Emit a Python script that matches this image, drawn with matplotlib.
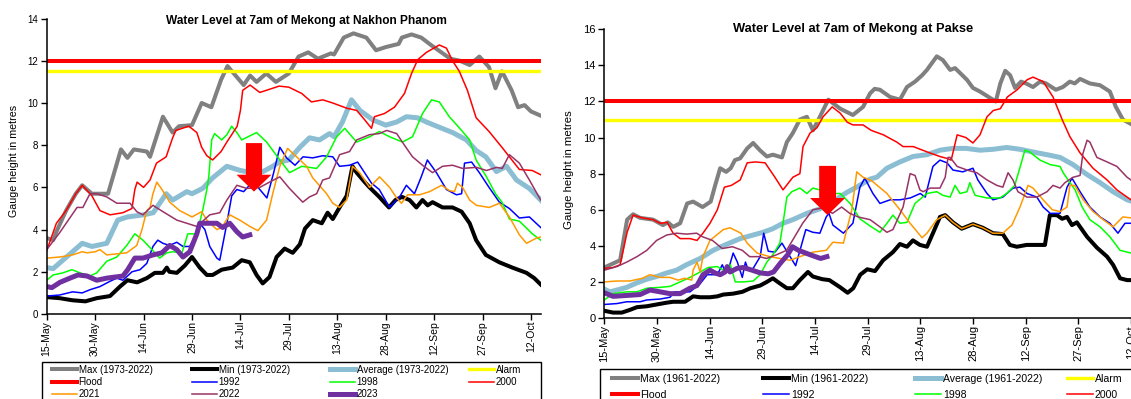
import matplotlib
matplotlib.use('Agg')
import matplotlib.pyplot as plt
from matplotlib.lines import Line2D
from matplotlib.patches import Rectangle, FancyArrow

plt.rcParams['font.family'] = ['Liberation Sans', 'DejaVu Sans']

W, H, DPI = 1131, 399, 100

TICK_DAYS = [0, 15, 30, 45, 60, 75, 90, 105, 120, 135, 150]
TICK_LABELS = ['15-May', '30-May', '14-Jun', '29-Jun', '14-Jul', '29-Jul',
               '13-Aug', '28-Aug', '12-Sep', '27-Sep', '12-Oct']

# ---------------- Nakhon Phanom (left) ----------------
NP_FLOOD = 12.0
NP_ALARM = 11.5

NP_MAX_D = [0, 2, 3, 6, 9, 11, 14, 19, 23, 25, 27, 31, 32, 36, 39, 41, 45, 48, 51, 54, 56, 61, 63, 65, 68, 71, 73, 75,
            78, 81, 84, 88, 89, 92, 95, 99, 102, 105, 109, 110, 113, 116, 119, 125, 128, 131, 134, 137, 139, 141, 144,
            146, 148, 150, 153]
NP_MAX_V = [3.6, 3.5, 3.9, 4.9, 5.7, 6.1, 5.7, 5.7, 7.8, 7.4, 7.8, 7.7, 7.45, 9.35, 8.6, 8.9, 8.95, 10.0, 9.8, 11.1,
            11.75, 10.85, 11.3, 11.0, 11.4, 11.0, 11.2, 11.4, 12.2, 12.4, 12.1, 12.35, 12.3, 13.1, 13.3, 13.1, 12.5,
            12.65, 12.8, 13.1, 13.25, 13.1, 12.75, 12.1, 12.0, 11.8, 12.2, 11.7, 10.7, 11.5, 10.6, 9.8, 9.9, 9.6, 9.4]

NP_MIN_D = [0, 4, 8, 12, 15.5, 19.6, 22.7, 25, 28, 31, 33.5, 36, 37.2, 38, 40.3, 42.8, 45, 47.4, 49.6, 51.4, 54.2,
            57.6, 60.4, 62.9, 65, 66.9, 69, 71.2, 73.7, 76.2, 78.4, 80, 82.4, 85.2, 87, 88.6, 90.7, 92.9, 94.7, 96,
            98.5, 100, 103, 106, 108, 110, 112.4, 114.5, 116.4, 118, 119.5, 122.6, 125.7, 128.5, 131, 133, 136,
            140.2, 144.2, 148.6, 151, 153]
NP_MIN_V = [0.8, 0.75, 0.65, 0.6, 0.75, 0.85, 1.3, 1.6, 1.5, 1.7, 1.95, 1.95, 2.2, 2.0, 1.95, 2.3, 2.7, 2.2, 1.85,
            1.85, 2.1, 2.2, 2.55, 2.45, 1.85, 1.45, 1.75, 2.7, 3.1, 2.9, 3.3, 4.05, 4.45, 4.3, 4.8, 4.5, 5.05, 5.6,
            7.0, 6.7, 6.25, 6.0, 5.55, 5.05, 5.4, 5.55, 5.4, 5.05, 5.4, 5.15, 5.3, 5.05, 5.05, 4.85, 4.3, 3.5, 2.8,
            2.45, 2.2, 1.95, 1.7, 1.4]

NP_AVG_D = [0, 2, 5, 8, 11, 14, 18.6, 20, 22, 25, 30, 33, 35, 37, 39, 43.4, 45, 48.3, 51.4, 55.8, 60, 63.8, 67, 70,
            72, 75, 78.4, 81.4, 84.5, 87.6, 89, 91.6, 94.4, 97, 101, 105, 108.4, 111.4, 114.8, 117.6, 121.6, 125.7,
            130, 133, 136, 139.3, 142.4, 145.5, 149.5, 153]
NP_AVG_V = [2.2, 2.15, 2.55, 2.95, 3.35, 3.2, 3.35, 3.8, 4.45, 4.6, 4.7, 4.8, 5.25, 5.7, 5.4, 5.8, 5.7, 5.95, 6.45,
            7.0, 6.8, 6.7, 6.75, 7.0, 7.2, 7.3, 7.9, 8.35, 8.25, 8.55, 8.4, 9.1, 10.15, 9.65, 9.2, 8.95, 9.1, 9.35,
            9.3, 9.1, 8.85, 8.6, 8.25, 7.75, 7.45, 6.75, 7.0, 6.35, 5.95, 5.4]

NP_1992_D = [0, 4, 8, 11, 13.4, 16.5, 19.6, 21.7, 23.6, 26.4, 28.9, 31, 32.9, 34.4, 36, 38, 40.3, 42.2, 44.3, 45.9,
             47.4, 49, 50.5, 52.7, 53.6, 55.8, 57.3, 58.9, 61, 64, 66, 68.2, 70.3, 72.2, 74.3, 76.9, 79.4, 82.4,
             85.5, 88.6, 90.7, 93.8, 96.3, 100.6, 103, 106.2, 109.3, 111.4, 113.9, 116, 117.9, 120.7, 123.8, 126.9,
             128.5, 129.4, 131.6, 134, 137, 140.2, 143.3, 146.4, 149.5, 153]
NP_1992_V = [0.85, 0.9, 1.05, 1.0, 1.15, 1.3, 1.55, 1.7, 1.6, 2.0, 2.1, 2.4, 3.2, 3.5, 3.35, 3.25, 3.4, 3.2, 3.2,
             3.65, 4.3, 4.0, 3.2, 2.65, 2.55, 4.3, 5.6, 5.9, 5.8, 6.3, 5.9, 5.5, 6.7, 7.9, 7.4, 7.05, 7.45, 7.4, 7.5,
             7.45, 7.0, 7.05, 7.2, 6.2, 5.9, 5.05, 5.55, 6.1, 5.7, 6.5, 7.3, 6.7, 5.9, 5.65, 5.7, 7.15, 7.2, 6.7,
             6.0, 5.3, 5.0, 4.55, 4.6, 4.1]

NP_1998_D = [0, 2, 5, 7.8, 10.3, 13.4, 15.5, 18.6, 21.7, 24.8, 27.3, 29.8, 32.9, 35, 37.2, 39, 41.9, 43.7, 46.5,
             48.3, 49.6, 50.2, 51.1, 52, 54.2, 55.8, 57.3, 58.9, 60.4, 65, 68.1, 72.2, 75.2, 79, 83.6, 86.7, 89.8,
             92.3, 96, 100, 103, 106.2, 110.2, 113.3, 116.4, 119.2, 121.6, 124.7, 128.5, 131, 133, 136.2, 139, 141,
             143.3, 146.4, 150.4, 153]
NP_1998_V = [1.6, 1.85, 1.95, 2.1, 1.95, 1.8, 1.95, 2.5, 2.7, 3.25, 3.8, 3.5, 3.0, 2.65, 2.9, 2.95, 2.9, 3.8, 3.8,
             4.9, 5.9, 6.5, 8.25, 8.55, 8.25, 8.5, 8.9, 8.6, 8.25, 8.6, 8.15, 7.3, 6.7, 7.0, 6.9, 7.45, 8.4, 8.8,
             8.15, 8.4, 8.65, 8.4, 8.15, 8.4, 9.5, 10.15, 10.05, 9.35, 8.7, 8.25, 7.3, 6.5, 5.7, 5.3, 4.5, 4.4, 3.8,
             3.5]

NP_2000_D = [0, 3, 6, 9, 11, 14, 16.5, 19.6, 23.6, 26.4, 27.3, 28, 30, 32, 34, 37, 39, 40, 44, 46.5, 48, 49.6, 51.4,
             54, 55.8, 59, 60, 60.7, 63, 66, 68, 72, 75, 79, 82, 85.5, 88.6, 93, 96, 98.5, 100.6, 101.5, 104.6,
             107.7, 110.8, 113, 114.9, 117.6, 121.6, 123.8, 125.7, 127.8, 130.3, 133, 137, 141, 143.3, 146.4, 150.4,
             153]
NP_2000_V = [3.0, 4.3, 4.9, 5.7, 6.1, 5.6, 4.9, 4.7, 4.8, 5.0, 5.9, 6.25, 6.0, 6.35, 7.15, 7.45, 8.35, 8.7, 8.9,
             8.6, 7.9, 7.5, 7.3, 7.7, 8.15, 8.9, 9.65, 10.6, 10.85, 10.5, 10.6, 10.8, 10.75, 10.45, 10.05, 10.15,
             10.0, 9.75, 9.65, 9.2, 8.8, 9.35, 9.5, 9.8, 10.45, 11.4, 12.05, 12.4, 12.75, 12.6, 12.0, 11.5, 10.6,
             9.3, 8.65, 7.9, 7.45, 6.85, 6.8, 6.6]

NP_2021_D = [0, 4, 8, 11, 12.5, 15, 16.5, 18.6, 21.7, 24.8, 27.9, 29.5, 31, 32, 32.9, 34.1, 35.7, 38.1, 41.2, 45, 48,
             49.6, 52.7, 54.2, 56.7, 59.8, 62.9, 65.4, 68.1, 70, 72.2, 74.6, 77.4, 80.5, 82.4, 86.7, 88.6, 90.7,
             92.9, 94.7, 96.9, 100, 103.1, 106.2, 108.4, 109.9, 111.8, 115.5, 118.6, 122.3, 124.7, 126.3, 127.2,
             128.8, 131, 133.1, 137.1, 140.2, 143.3, 146.4, 148.6, 151.7, 153]
NP_2021_V = [2.65, 2.7, 2.8, 2.95, 2.9, 2.95, 3.05, 2.8, 2.85, 2.9, 3.25, 4.0, 4.9, 5.05, 5.7, 6.25, 5.9, 5.3, 4.9,
             4.6, 4.85, 4.45, 4.0, 4.1, 4.7, 4.45, 4.15, 3.95, 4.45, 5.7, 7.0, 7.85, 7.45, 7.0, 6.45, 5.7, 5.25,
             5.05, 5.4, 7.0, 6.7, 6.0, 6.5, 6.0, 5.5, 5.25, 5.65, 5.65, 5.8, 6.1, 5.85, 5.8, 6.2, 6.0, 5.4, 5.15,
             5.05, 5.25, 4.6, 3.75, 3.35, 3.6, 3.65]

NP_2022_D = [0, 4, 9.4, 11.2, 13.4, 15.5, 18.6, 21.7, 25.8, 27.9, 29.8, 32.9, 36, 40.3, 43.4, 46.5, 50.5, 53.6, 55.8,
             58.9, 62, 66, 69, 72.2, 75.2, 79.3, 81.4, 83.6, 85.5, 87.6, 90.7, 93.8, 96, 100, 103, 105.3, 108.4,
             110.8, 113.3, 116.4, 119.5, 122.6, 125.7, 128.8, 133.1, 136.2, 139.3, 141.1, 143.3, 146.4, 149.5, 153]
NP_2022_V = [3.05, 3.85, 5.05, 5.05, 5.7, 5.7, 5.55, 5.25, 5.25, 4.85, 4.7, 5.15, 4.85, 4.45, 4.3, 4.15, 4.7, 4.8,
             5.4, 6.1, 5.95, 6.0, 6.25, 6.5, 5.95, 5.3, 5.55, 5.7, 6.35, 6.45, 7.55, 7.7, 8.25, 8.5, 8.55, 8.7, 8.55,
             8.0, 7.45, 7.05, 6.7, 7.0, 7.05, 6.9, 6.95, 6.8, 6.95, 6.9, 7.55, 7.15, 6.35, 5.4]

NP_2023_D = [0, 1.6, 4.1, 7.2, 9.7, 12.5, 15.5, 18.6, 21.1, 23.6, 25.1, 27.3, 29.8, 32.9, 35.7, 38.1, 40.3, 42.2,
             44.3, 46.5, 47.4, 49.6, 52.7, 54.5, 56.7, 58.9, 60.7, 62.9]
NP_2023_V = [1.3, 1.25, 1.5, 1.7, 1.85, 1.8, 1.6, 1.7, 1.75, 1.8, 2.1, 2.65, 2.65, 2.8, 2.9, 3.25, 3.05, 2.7, 2.95,
             3.8, 4.3, 4.3, 4.3, 4.1, 4.3, 3.9, 3.65, 3.75]

# ---------------- Pakse (right) ----------------
PK_FLOOD = 12.0
PK_ALARM = 11.0

PK_MAX_D = [0, 4.5, 6.5, 8.2, 10.2, 13.9, 16.7, 18.1, 19.6, 21.6, 23.6, 25.3, 28, 30.3, 31.5, 33, 34.7, 36, 37.2,
            38.7, 40.7, 42.4, 44.3, 46.3, 48, 50.6, 52, 53.7, 55.7, 57.7, 59.4, 61.4, 63.8, 67.2, 70.8, 73.7, 75.7,
            77, 78.5, 81.4, 84.2, 86.2, 88.5, 90.5, 91.9, 94.7, 96.4, 98.5, 99.9, 103.3, 105, 107, 111.5, 112.8,
            114.2, 115.6, 117, 118.7, 120.1, 122.1, 124.1, 125.8, 128.6, 130.6, 132.6, 134, 135.5, 138.3, 141.2,
            144, 145.7, 147.7, 150.5, 153]
PK_MAX_V = [2.8, 3.2, 5.45, 5.75, 5.55, 5.45, 5.15, 5.3, 5.05, 5.25, 6.35, 6.45, 6.15, 6.45, 7.3, 8.3, 8.1, 8.3,
            8.75, 8.85, 9.4, 9.7, 9.3, 8.95, 9.05, 8.9, 9.75, 10.25, 11.0, 11.15, 10.4, 11.15, 12.1, 11.6, 11.25,
            11.7, 12.45, 12.7, 12.65, 12.25, 12.1, 12.8, 13.1, 13.45, 13.75, 14.5, 14.3, 13.75, 13.85, 13.2, 12.75,
            12.55, 12.0, 13.0, 13.7, 13.45, 12.75, 13.1, 13.0, 12.8, 13.1, 13.0, 12.65, 12.8, 13.1, 13.0, 13.25,
            13.0, 12.9, 12.55, 11.7, 11.0, 10.7, 10.6]

PK_MIN_D = [0, 2.5, 5, 7.3, 9.3, 12.1, 14.9, 17.8, 19.6, 23, 25.3, 27.3, 30.1, 32.2, 33.9, 36.7, 39.3, 41.6, 44.4,
            46.3, 48, 49.4, 52, 53.7, 55.7, 58, 59.4, 62.1, 64.1, 67.2, 69.3, 70.9, 72.9, 74.9, 77.1, 79.4, 82.2,
            84.2, 86.2, 87.9, 89.9, 91.9, 93.6, 95.6, 97.1, 99.3, 101.8, 105, 107.8, 110.7, 113.5, 115.5, 117.5,
            120.3, 124, 125.5, 126.9, 128.9, 130.4, 131.8, 133.2, 134.6, 137.5, 140.3, 143.2, 144.9, 146.9, 148.9,
            153]
PK_MIN_V = [0.4, 0.3, 0.3, 0.45, 0.6, 0.65, 0.75, 0.85, 0.9, 0.9, 1.2, 1.15, 1.15, 1.2, 1.3, 1.35, 1.45, 1.65, 1.8,
            2.0, 2.2, 2.0, 1.65, 1.65, 2.1, 2.55, 2.3, 2.15, 2.1, 1.7, 1.4, 1.65, 2.4, 2.7, 2.6, 3.2, 3.65, 4.1,
            3.95, 4.3, 4.05, 3.95, 4.7, 5.6, 5.7, 5.3, 4.95, 5.2, 5.0, 4.7, 4.65, 4.05, 3.95, 4.05, 4.05, 4.05, 5.7,
            5.7, 5.5, 5.6, 5.15, 5.3, 4.5, 3.9, 3.4, 2.95, 2.2, 2.1, 2.1]

PK_AVG_D = [0, 1.6, 3.6, 6.4, 9.3, 12.1, 14.9, 17.8, 20.6, 23.4, 27.3, 31, 35, 38.7, 42.4, 45.2, 48, 50.9, 53.7, 57.7,
            61.4, 65.1, 69, 72.3, 75.7, 77.6, 80.5, 84.2, 87.9, 91.9, 95.6, 99.3, 103.1, 107, 110.7, 114.6, 118.4,
            122.1, 126.1, 129.8, 133.5, 137.5, 141.2, 144.9, 148.9, 153]
PK_AVG_V = [1.6, 1.45, 1.55, 1.7, 1.95, 2.15, 2.3, 2.5, 2.65, 2.95, 3.3, 3.75, 4.1, 4.4, 4.6, 4.75, 4.95, 5.25, 5.45,
            5.8, 6.05, 6.45, 6.95, 7.3, 7.7, 7.8, 8.3, 8.65, 8.95, 9.05, 9.3, 9.4, 9.4, 9.3, 9.35, 9.45, 9.35, 9.2,
            9.05, 8.9, 8.5, 7.95, 7.5, 7.0, 6.55, 6.3]

PK_1992_D = [0, 3.6, 6.4, 10.2, 12.1, 15.9, 18.7, 20.1, 22.4, 24.4, 27.3, 29.3, 32.2, 33.6, 34.5, 35.3, 36.7, 37.9,
             39.3, 40.2, 41, 42.4, 44.4, 45.4, 46.7, 48.6, 50.6, 52.6, 54.5, 57.4, 59.4, 61.4, 63.2, 64, 65.1, 68.1,
             70.8, 72.8, 74.2, 76.5, 78.5, 81.4, 84.2, 87.1, 90, 91.4, 93.6, 95.6, 97.6, 99.3, 102.1, 105, 106.4,
             109, 110.7, 113.5, 116.4, 118.4, 120.4, 123.2, 125, 127, 129.8, 131.8, 133.2, 135.5, 138.3, 141.2, 144,
             146.3, 148.3, 150, 153]
PK_1992_V = [0.75, 0.8, 0.9, 0.9, 1.0, 1.05, 1.15, 1.45, 1.45, 1.45, 1.9, 2.4, 2.4, 2.95, 2.55, 2.65, 3.6, 3.1, 2.25,
             3.1, 2.65, 2.75, 3.4, 4.7, 3.7, 3.65, 4.15, 3.5, 2.9, 4.9, 4.75, 4.7, 5.6, 5.8, 5.15, 4.7, 5.25, 7.25,
             7.75, 6.9, 6.35, 6.55, 6.55, 6.65, 6.9, 6.7, 8.4, 8.75, 8.6, 8.2, 8.1, 8.3, 7.65, 6.9, 6.55, 6.7, 7.2,
             7.25, 6.9, 6.7, 6.15, 5.8, 5.8, 7.25, 7.75, 7.0, 6.15, 5.6, 5.25, 4.7, 5.25, 5.25, 5.2]

PK_1998_D = [0, 2.5, 6.4, 9.3, 12.1, 15.9, 18.7, 21.6, 24.4, 27.3, 29.6, 32.2, 33.9, 35.9, 37.3, 39.6, 42.4, 44.4,
             46.3, 48, 50, 50.9, 52, 53.4, 55.7, 57.7, 59.4, 61.4, 64.3, 67.2, 70, 72.8, 75.7, 78.5, 80.5, 82.2,
             84.2, 86.2, 88.5, 91.9, 94.7, 96.4, 98.5, 99.9, 101.3, 103.3, 104.1, 105.6, 109, 112.7, 114.6, 116.9,
             118.4, 119.8, 121.2, 124.1, 127, 129.8, 130.7, 132.1, 134.1, 136.1, 138.3, 141.2, 144, 146.9, 150, 153]
PK_1998_V = [1.0, 1.35, 1.45, 1.45, 1.65, 1.7, 1.75, 2.0, 2.25, 2.55, 2.8, 2.85, 2.65, 2.95, 2.0, 2.0, 2.05, 2.4,
             3.1, 3.5, 4.15, 5.25, 6.7, 7.0, 7.2, 6.9, 7.2, 7.1, 6.9, 6.9, 6.35, 5.5, 5.1, 4.75, 5.25, 5.7, 5.25,
             5.3, 6.35, 6.9, 7.0, 6.8, 6.7, 7.35, 6.9, 7.0, 7.5, 6.8, 6.65, 6.65, 6.9, 7.35, 8.35, 9.3, 9.2, 8.75,
             8.5, 8.4, 8.05, 7.65, 7.1, 6.15, 5.45, 5.05, 4.5, 3.75, 3.6, 3.5]

PK_2000_D = [0, 2.5, 4.5, 6.5, 8.2, 10.8, 13.9, 15.9, 17.9, 19.6, 21.6, 24.4, 26.4, 28.1, 30.1, 32.2, 34.2, 36.2,
             38.7, 40.7, 43, 45.8, 48.6, 50.9, 53.7, 55.7, 56.6, 58.6, 60.6, 62.3, 64.9, 67.2, 69.2, 70.8, 73.7, 76,
             79.5, 83.3, 85.1, 88, 92, 95.6, 97.5, 98.8, 100.5, 103, 105, 107, 109, 110.8, 112.8, 114.8, 117.6,
             120.4, 122.1, 125, 127.8, 130.4, 132.6, 135.5, 139.2, 143.2, 146, 150, 153]
PK_2000_V = [2.75, 2.8, 2.95, 4.75, 5.7, 5.55, 5.45, 5.25, 5.3, 4.7, 4.4, 4.4, 4.3, 4.7, 5.25, 6.0, 7.25, 7.35, 7.65,
             8.6, 8.65, 8.6, 7.8, 7.1, 7.8, 8.0, 9.5, 10.25, 10.55, 11.15, 11.7, 11.35, 10.85, 10.7, 10.7, 10.4,
             10.15, 9.75, 9.5, 9.5, 9.2, 8.95, 8.85, 8.75, 10.15, 10.0, 9.7, 10.15, 11.15, 11.5, 11.6, 12.25, 12.65,
             13.2, 13.35, 13.1, 12.25, 11.0, 10.05, 9.15, 8.3, 7.65, 7.1, 6.55, 6.3]

PK_2021_D = [0, 3.6, 7.3, 10.8, 13, 15.9, 18.7, 21, 22.9, 24.9, 25.3, 26.4, 27.3, 28.1, 30.1, 33.9, 35.8, 38.9, 40.7,
             43.5, 47.1, 50, 52.9, 55.7, 59.4, 63.2, 65.1, 68.1, 70.5, 71.9, 73.7, 75.7, 76.5, 80.5, 84.2, 87.1,
             90.5, 91.9, 94.7, 97.1, 99.3, 101.8, 105, 107.8, 110.7, 113.5, 116.1, 118.4, 120.7, 122.1, 125, 127.6,
             129.8, 131.8, 132.6, 134, 136.4, 139.2, 142.1, 144.9, 147.7, 150, 153]
PK_2021_V = [2.0, 2.05, 2.05, 2.2, 2.4, 2.25, 2.25, 2.1, 2.2, 2.1, 2.65, 3.1, 2.55, 3.4, 4.3, 4.9, 5.0, 4.7, 4.15,
             3.6, 3.4, 3.3, 3.2, 3.4, 3.65, 3.75, 4.2, 4.15, 6.0, 8.1, 7.8, 7.65, 7.55, 6.9, 6.0, 5.25, 4.45, 4.7,
             5.45, 5.7, 5.3, 4.95, 5.2, 5.0, 4.7, 4.7, 5.15, 6.15, 7.35, 7.2, 6.55, 6.0, 5.9, 6.15, 7.35, 7.35, 6.55,
             5.9, 5.45, 5.05, 5.6, 5.55, 5.5]

PK_2022_D = [0, 3.6, 6.4, 9.3, 12.1, 14.9, 17.8, 20.6, 23.4, 26.3, 28, 30.8, 33.6, 36.5, 39.3, 41.4, 44.2, 46.2, 49,
             51.9, 53.6, 56.5, 59.4, 62.2, 65, 67.6, 69.9, 72.3, 75.7, 78.5, 80.5, 82.2, 85.1, 87.1, 88.5, 89.9,
             90.8, 92.8, 95.6, 97.1, 97.9, 98.5, 100.5, 103.3, 106.1, 109, 111.8, 113.5, 115, 116.4, 117.8, 120.4,
             123.2, 126.1, 127.8, 129.8, 131.2, 133.5, 135.5, 136.3, 137.5, 138.3, 140.3, 143.2, 146, 148.9, 150,
             153]
PK_2022_V = [2.65, 2.85, 3.1, 3.4, 3.75, 4.3, 4.6, 4.7, 4.65, 4.7, 4.5, 4.3, 3.85, 3.95, 3.75, 3.4, 3.4, 3.3, 3.5,
             3.75, 4.3, 5.25, 6.0, 6.1, 5.8, 6.15, 5.8, 5.6, 5.45, 5.05, 4.75, 4.9, 6.15, 8.0, 7.9, 7.1, 7.0, 7.2,
             7.2, 7.8, 8.9, 8.9, 8.4, 8.2, 8.05, 7.65, 7.35, 7.25, 8.05, 7.65, 7.0, 6.7, 6.7, 7.0, 7.35, 7.2, 7.5,
             7.8, 7.9, 9.1, 9.85, 9.75, 8.9, 8.65, 8.4, 7.8, 7.65, 7.4]

PK_2023_D = [0, 2.5, 6.4, 10.2, 13, 15.9, 18.7, 21.6, 24.4, 26.4, 28.1, 30.1, 31.5, 33, 34.4, 35, 35.8, 37.8, 39.5,
             42.1, 44.4, 46.7, 48.2, 50.2, 52.2, 53.6, 55.3, 56.7, 58.7, 61.6, 63.4]
PK_2023_V = [1.4, 1.2, 1.25, 1.3, 1.55, 1.45, 1.35, 1.35, 1.65, 1.8, 2.4, 2.65, 2.5, 2.4, 2.55, 2.85, 2.55, 2.75,
             2.8, 2.65, 2.5, 2.45, 2.55, 3.05, 3.5, 3.95, 3.75, 3.65, 3.5, 3.3, 3.4]

# arrows (annotation): centre day, top, head base, tip, body/head half-widths in days
NP_ARROW = dict(day=64.2, top=8.1, base=6.6, tip=5.8, body=2.5, head=5.4)
PK_ARROW = dict(day=63.6, top=8.43, base=6.65, tip=5.7, body=2.4, head=5.0)

STYLES = {
    'max': dict(color='#808080', lw=2.9),
    'min': dict(color='#000000', lw=2.9),
    'avg': dict(color='#8CBED3', lw=3.6),
    'alarm': dict(color='#FFFF00', lw=2.4),
    'flood': dict(color='#FF0000', lw=2.9),
    '1992': dict(color='#0000FF', lw=1.1),
    '1998': dict(color='#00FF00', lw=1.1),
    '2000': dict(color='#FF0000', lw=1.1),
    '2021': dict(color='#FF9900', lw=1.1),
    '2022': dict(color='#993366', lw=1.1),
    '2023': dict(color='#7030A0', lw=3.6),
}


def px_rect(x0, y0, x1, y1):
    return [x0 / W, 1 - y1 / H, (x1 - x0) / W, (y1 - y0) / H]


fig = plt.figure(figsize=(W / DPI, H / DPI), dpi=DPI)


def panel(rect, series, flood, alarm, ymax, arrow, fs_tick, fs_x):
    ax = fig.add_axes(rect)
    for key, d, v in series[:3]:
        ax.plot(d, v, solid_joinstyle='round', **STYLES[key])
    ax.axhline(alarm, **STYLES['alarm'])
    ax.axhline(flood, **STYLES['flood'])
    for key, d, v in series[3:]:
        ax.plot(d, v, solid_joinstyle='round', **STYLES[key])
    a = arrow
    ax.add_patch(FancyArrow(a['day'], a['top'], 0, a['tip'] - a['top'], width=2 * a['body'],
                            head_width=2 * a['head'], head_length=a['base'] - a['tip'],
                            length_includes_head=True, color='#FF0000', lw=0, zorder=10))
    ax.set_xlim(0, 153)
    ax.set_ylim(0, ymax)
    ax.set_yticks(range(0, ymax + 1, 2))
    ax.set_xticks(TICK_DAYS)
    ax.set_xticklabels(TICK_LABELS, rotation=90, fontsize=fs_x)
    ax.tick_params(axis='y', labelsize=fs_tick, length=4, width=1, pad=2)
    ax.tick_params(axis='x', length=4, width=1, pad=1)
    for s in ('top', 'right'):
        ax.spines[s].set_visible(False)
    for s in ('left', 'bottom'):
        ax.spines[s].set_linewidth(1.1)
    return ax


np_series = [('max', NP_MAX_D, NP_MAX_V), ('min', NP_MIN_D, NP_MIN_V), ('avg', NP_AVG_D, NP_AVG_V),
             ('1992', NP_1992_D, NP_1992_V), ('1998', NP_1998_D, NP_1998_V), ('2000', NP_2000_D, NP_2000_V),
             ('2021', NP_2021_D, NP_2021_V), ('2022', NP_2022_D, NP_2022_V), ('2023', NP_2023_D, NP_2023_V)]
pk_series = [('max', PK_MAX_D, PK_MAX_V), ('min', PK_MIN_D, PK_MIN_V), ('avg', PK_AVG_D, PK_AVG_V),
             ('1992', PK_1992_D, PK_1992_V), ('1998', PK_1998_D, PK_1998_V), ('2000', PK_2000_D, PK_2000_V),
             ('2021', PK_2021_D, PK_2021_V), ('2022', PK_2022_D, PK_2022_V), ('2023', PK_2023_D, PK_2023_V)]

panel(px_rect(46.7, 18.6, 540.7, 314), np_series, NP_FLOOD, NP_ALARM, 14, NP_ARROW, 7, 7.5)
panel(px_rect(604.3, 29.3, 604.3 + 153 * 3.511, 318), pk_series, PK_FLOOD, PK_ALARM, 16, PK_ARROW, 8, 8)

fig.text(306 / W, 1 - 21 / H, 'Water Level at 7am of Mekong at Nakhon Phanom', fontsize=8.6,
         fontweight='bold', ha='center', va='center')
fig.text(853 / W, 1 - 29 / H, 'Water Level at 7am of Mekong at Pakse', fontsize=9.3,
         fontweight='bold', ha='center', va='center')
fig.text(14 / W, 1 - 161 / H, 'Gauge height in metres', fontsize=7.7, rotation=90, ha='center', va='center')
fig.text(569 / W, 1 - 170 / H, 'Gauge height in metres', fontsize=8.2, rotation=90, ha='center', va='center')

# legends: one frameless legend per column inside a drawn frame
COLS = [['max', 'flood', '2021'], ['min', '1992', '2022'], ['avg', '1998', '2023'], ['alarm', '2000']]


def labels_for(period):
    return {'max': f'Max ({period})', 'min': f'Min ({period})', 'avg': f'Average ({period})', 'alarm': 'Alarm',
            'flood': 'Flood', '1992': '1992', '1998': '1998', '2000': '2000', '2021': '2021', '2022': '2022',
            '2023': '2023'}


def legend_block(box, col_x, top_y, period, fs, spacing, hlen, nrows):
    fig.patches.append(Rectangle((box[0] / W, 1 - box[3] / H), (box[2] - box[0]) / W, (box[3] - box[1]) / H,
                                 transform=fig.transFigure, fill=False, edgecolor='#000000', lw=1.0))
    names = labels_for(period)
    for keys, x in zip(COLS, col_x):
        keys = keys[:nrows]
        handles = [Line2D([], [], **STYLES[k]) for k in keys]
        fig.legend(handles, [names[k] for k in keys], loc='upper left', bbox_to_anchor=(x / W, 1 - top_y / H),
                   frameon=False, fontsize=fs, borderpad=0, borderaxespad=0, labelspacing=spacing,
                   handlelength=hlen, handletextpad=0.2)


legend_block((42, 362, 541, 420), [52, 192, 330, 469], 364.8, '1973-2022', 7, 0.23, 2.55, 3)
# the Pakse legend's third row lies below the visible picture in the reference
legend_block((600, 369, 1300, 440), [612, 763, 915, 1067], 373.5, '1961-2022', 7.6, 0.6, 2.45, 2)

fig.savefig('out.png', dpi=DPI)
